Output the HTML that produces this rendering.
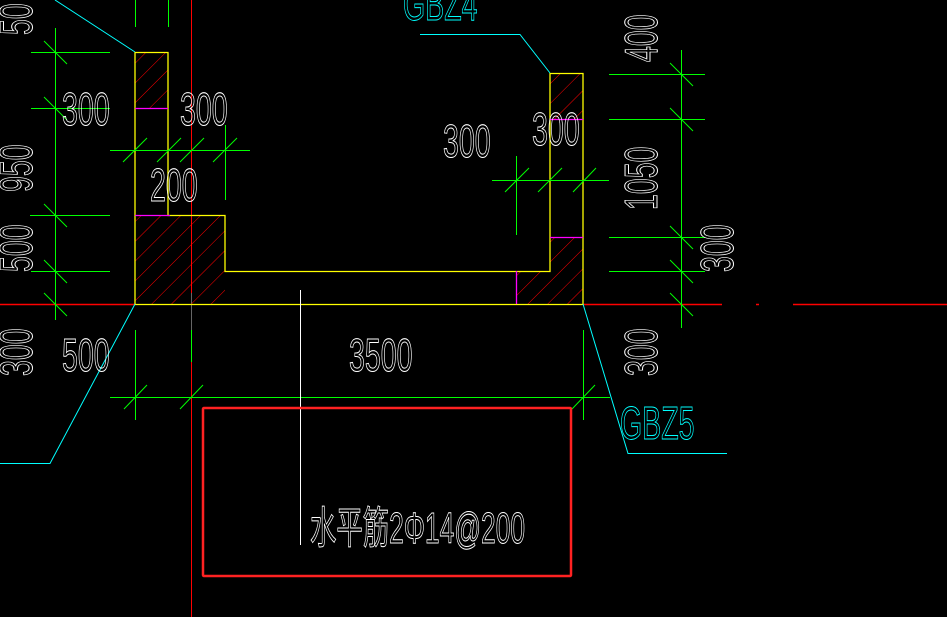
<!DOCTYPE html>
<html><head><meta charset="utf-8"><style>
html,body{margin:0;padding:0;background:#000;}
svg{display:block}
text{font-family:"Liberation Sans","Noto Sans CJK SC",sans-serif;fill:none;stroke:#fff;stroke-width:1}
</style></head><body>
<svg width="947" height="617" viewBox="0 0 947 617" xmlns="http://www.w3.org/2000/svg">
<defs>
<pattern id="h" width="14" height="14" patternUnits="userSpaceOnUse" patternTransform="rotate(45)">
<line x1="0" y1="0" x2="0" y2="14" stroke="#f00" stroke-width="1"/>
</pattern>
</defs>
<rect width="947" height="617" fill="#000"/>
<line x1="191.5" y1="290" x2="191.5" y2="617" stroke="#666"/>
<line x1="191.5" y1="0" x2="191.5" y2="293" stroke="#f00"/>
<line x1="191.5" y1="362" x2="191.5" y2="617" stroke="#f00"/>
<line x1="0" y1="304.5" x2="135" y2="304.5" stroke="#f00" stroke-width="1.5"/>
<line x1="583" y1="304.5" x2="722" y2="304.5" stroke="#f00" stroke-width="1.5"/>
<line x1="756" y1="304.5" x2="759" y2="304.5" stroke="#f00" stroke-width="1.5"/>
<line x1="793" y1="304.5" x2="947" y2="304.5" stroke="#f00" stroke-width="1.5"/>
<rect x="135" y="52" width="33" height="56" fill="url(#h)"/>
<rect x="135" y="215" width="90" height="89" fill="url(#h)"/>
<rect x="550" y="73" width="33" height="46" fill="url(#h)"/>
<polygon points="550,237 583,237 583,304 516,304 516,271 550,271" fill="url(#h)"/>
<g stroke="#ff0" stroke-width="1.3" fill="none">
<polyline points="135,304.5 135,52.5 168,52.5 168,215.5 225,215.5 225,271.5 550,271.5 550,73.5 583,73.5 583,304.5 135,304.5"/>
</g>
<g stroke="#f0f" stroke-width="1.3">
<line x1="135" y1="108.5" x2="168" y2="108.5"/>
<line x1="135" y1="215.5" x2="170" y2="215.5"/>
<line x1="550" y1="119.5" x2="583" y2="119.5"/>
<line x1="550" y1="237.5" x2="583" y2="237.5"/>
<line x1="516.5" y1="271" x2="516.5" y2="304"/>
</g>
<g stroke="#0f0" stroke-width="1">
<line x1="135.5" y1="0" x2="135.5" y2="27"/><line x1="168.5" y1="0" x2="168.5" y2="27"/>
<line x1="55.5" y1="28" x2="55.5" y2="320"/>
<line x1="31" y1="52.5" x2="110" y2="52.5"/><line x1="31" y1="108.5" x2="110" y2="108.5"/>
<line x1="30" y1="215.5" x2="110" y2="215.5"/><line x1="31" y1="271.5" x2="110" y2="271.5"/>
<line x1="110" y1="150.5" x2="250" y2="150.5"/>
<line x1="225.5" y1="125" x2="225.5" y2="200"/>
<line x1="492" y1="180.5" x2="609" y2="180.5"/>
<line x1="516.5" y1="156" x2="516.5" y2="235"/>
<line x1="681.5" y1="50" x2="681.5" y2="328"/>
<line x1="609" y1="74.5" x2="705" y2="74.5"/><line x1="609" y1="119.5" x2="705" y2="119.5"/>
<line x1="609" y1="237.5" x2="705" y2="237.5"/><line x1="609" y1="271.5" x2="705" y2="271.5"/>
<line x1="110" y1="397.5" x2="610" y2="397.5"/>
<line x1="135.5" y1="330" x2="135.5" y2="420"/>
<line x1="191.5" y1="330" x2="191.5" y2="362"/>
<line x1="583.5" y1="330" x2="583.5" y2="420"/>
</g>
<g stroke="#0f0" stroke-width="1">
<line x1="44" y1="41" x2="67" y2="64"/><line x1="44" y1="97" x2="67" y2="120"/>
<line x1="44" y1="204" x2="67" y2="227"/><line x1="44" y1="260" x2="67" y2="283"/>
<line x1="44" y1="293" x2="67" y2="316"/>
<line x1="123" y1="162" x2="147" y2="138"/><line x1="157" y1="162" x2="181" y2="138"/>
<line x1="180" y1="162" x2="204" y2="138"/><line x1="213" y1="162" x2="237" y2="138"/>
<line x1="505" y1="192" x2="529" y2="168"/><line x1="538" y1="192" x2="562" y2="168"/>
<line x1="573" y1="192" x2="596" y2="168"/>
<line x1="670" y1="63" x2="693" y2="86"/><line x1="670" y1="108" x2="693" y2="131"/>
<line x1="670" y1="226" x2="693" y2="249"/><line x1="670" y1="260" x2="693" y2="283"/>
<line x1="670" y1="293" x2="693" y2="316"/>
<line x1="124" y1="409" x2="147" y2="385"/><line x1="180" y1="409" x2="203" y2="385"/>
<line x1="572" y1="409" x2="595" y2="385"/>
</g>
<g stroke="#0ff" stroke-width="1" fill="none">
<polyline points="55,0 135,52"/>
<polyline points="420,34.5 520,34.5 550,73"/>
<polyline points="583,304 628,453.5 727,453.5"/>
<polyline points="135,304 50,463.5 0,463.5"/>
</g>
<line x1="300.5" y1="290" x2="300.5" y2="545" stroke="#fff"/>
<rect x="203" y="408" width="368" height="168" fill="none" stroke="#f22" stroke-width="2.5" rx="1"/>
<g font-size="46">
<text transform="translate(62,125) scale(0.62,1)">300</text>
<text transform="translate(180,125) scale(0.62,1)">300</text>
<text transform="translate(150,201) scale(0.62,1)">200</text>
<text transform="translate(443,157) scale(0.62,1)">300</text>
<text transform="translate(532,145) scale(0.62,1)">300</text>
<text transform="translate(349,371) scale(0.62,1)">3500</text>
<text transform="translate(62,371) scale(0.62,1)">500</text>
<text transform="translate(32,35) rotate(-90) scale(0.62,1)">50</text>
<text transform="translate(32,192) rotate(-90) scale(0.62,1)">950</text>
<text transform="translate(32,272) rotate(-90) scale(0.62,1)">500</text>
<text transform="translate(32,376) rotate(-90) scale(0.62,1)">300</text>
<text transform="translate(657,62) rotate(-90) scale(0.62,1)">400</text>
<text transform="translate(657,210) rotate(-90) scale(0.62,1)">1050</text>
<text transform="translate(733,272) rotate(-90) scale(0.62,1)">300</text>
<text transform="translate(657,376) rotate(-90) scale(0.62,1)">300</text>
<text transform="translate(403,20) scale(0.62,1)" style="stroke:#0ff">GBZ4</text>
<text transform="translate(620,439) scale(0.62,1)" style="stroke:#0ff">GBZ5</text>
</g>
<text transform="translate(310,543) scale(0.6,1)" font-size="44">水平筋2Φ14@200</text>
</svg>
</body></html>
